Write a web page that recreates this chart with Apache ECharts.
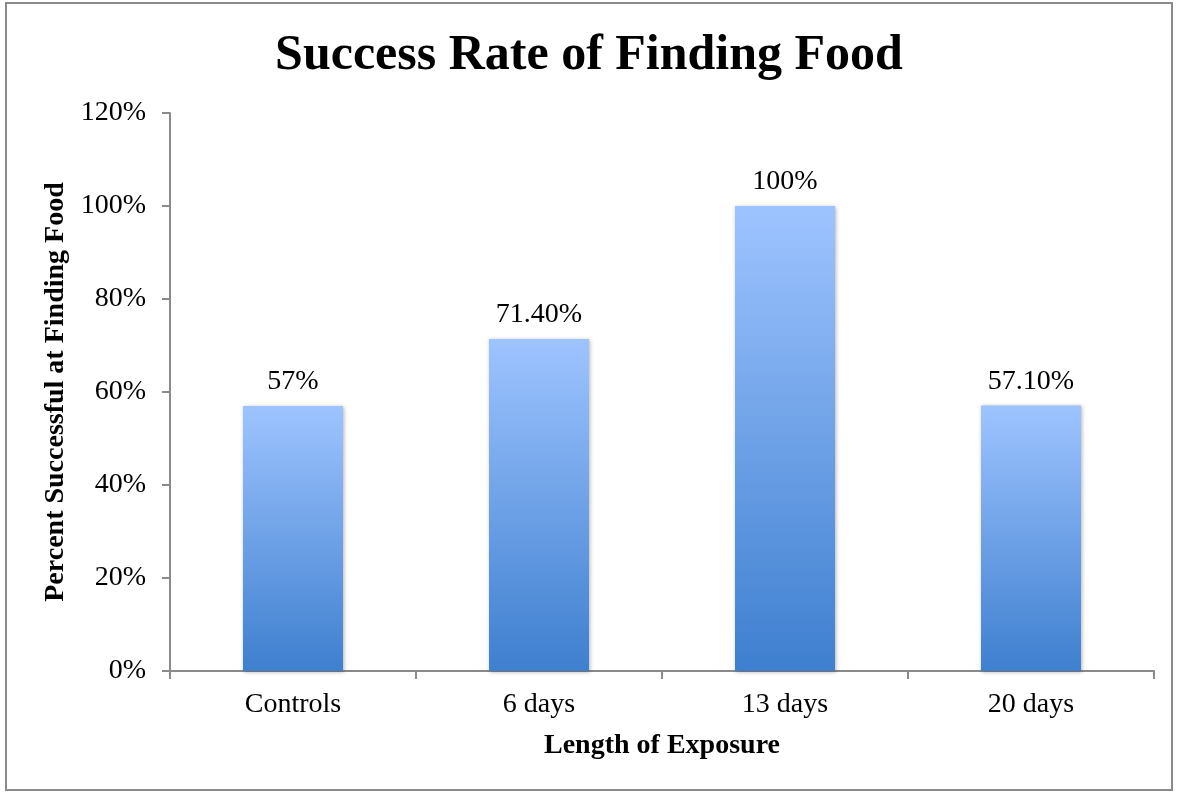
<!DOCTYPE html>
<html>
<head>
<meta charset="utf-8">
<script src="https://cdn.jsdelivr.net/npm/echarts@6/dist/echarts.min.js"></script>
<style>
html,body{margin:0;padding:0;background:#fff;}
#chart{width:1178px;height:793px;}
</style>
</head>
<body>
<div id="chart"></div>
<script>
const categories = ['Controls', '6 days', '13 days', '20 days'];
const values = [57, 71.4, 100, 57.1];
const valueLabels = ['57%', '71.40%', '100%', '57.10%'];
const yTicks = [0, 20, 40, 60, 80, 100, 120];

const serif = '"Liberation Serif", serif';
const chart = echarts.init(document.getElementById('chart'));
chart.setOption({
  backgroundColor: '#fff',
  animation: false,
  title: {
    text: 'Success Rate of Finding Food',
    left: 'center',
    top: 26,
    textStyle: { fontFamily: serif, fontWeight: 'bold', fontSize: 50, color: '#000' }
  },
  graphic: [{
    type: 'rect',
    shape: { x: 6, y: 3, width: 1166, height: 787 },
    style: { fill: 'none', stroke: '#8a8a8a', lineWidth: 2 },
    silent: true
  }],
  grid: { left: 170, right: 24, top: 113, bottom: 122 },
  xAxis: {
    type: 'category',
    data: categories,
    name: 'Length of Exposure',
    nameLocation: 'middle',
    nameGap: 61,
    nameTextStyle: { fontFamily: serif, fontWeight: 'bold', fontSize: 28, color: '#000' },
    axisLine: { lineStyle: { color: '#8a8a8a', width: 2 } },
    axisTick: { show: true, length: 8, lineStyle: { color: '#8a8a8a', width: 2 } },
    axisLabel: { fontFamily: serif, fontSize: 28, color: '#000', margin: 20 }
  },
  yAxis: {
    type: 'value',
    min: 0, max: 120, interval: 20,
    name: 'Percent Successful at Finding Food',
    nameLocation: 'middle',
    nameGap: 96,
    nameTextStyle: { fontFamily: serif, fontWeight: 'bold', fontSize: 28, color: '#000' },
    axisLine: { show: true, lineStyle: { color: '#8a8a8a', width: 2 } },
    axisTick: { show: true, length: 8, lineStyle: { color: '#8a8a8a', width: 2 } },
    splitLine: { show: false },
    axisLabel: {
      fontFamily: serif, fontSize: 28, color: '#000', margin: 24,
      formatter: v => yTicks.includes(v) ? v + '%' : ''
    }
  },
  series: [{
    type: 'bar',
    data: values,
    barWidth: 100,
    itemStyle: {
      color: new echarts.graphic.LinearGradient(0, 0, 0, 1, [
        { offset: 0, color: '#9ec4ff' },
        { offset: 1, color: '#3e7fcf' }
      ]),
      shadowBlur: 4,
      shadowColor: 'rgba(0,0,0,0.3)',
      shadowOffsetX: 1,
      shadowOffsetY: 1
    },
    label: {
      show: true,
      position: 'top',
      distance: 10,
      fontFamily: serif,
      fontSize: 28,
      color: '#000',
      formatter: p => valueLabels[p.dataIndex]
    }
  }]
});
</script>
</body>
</html>
